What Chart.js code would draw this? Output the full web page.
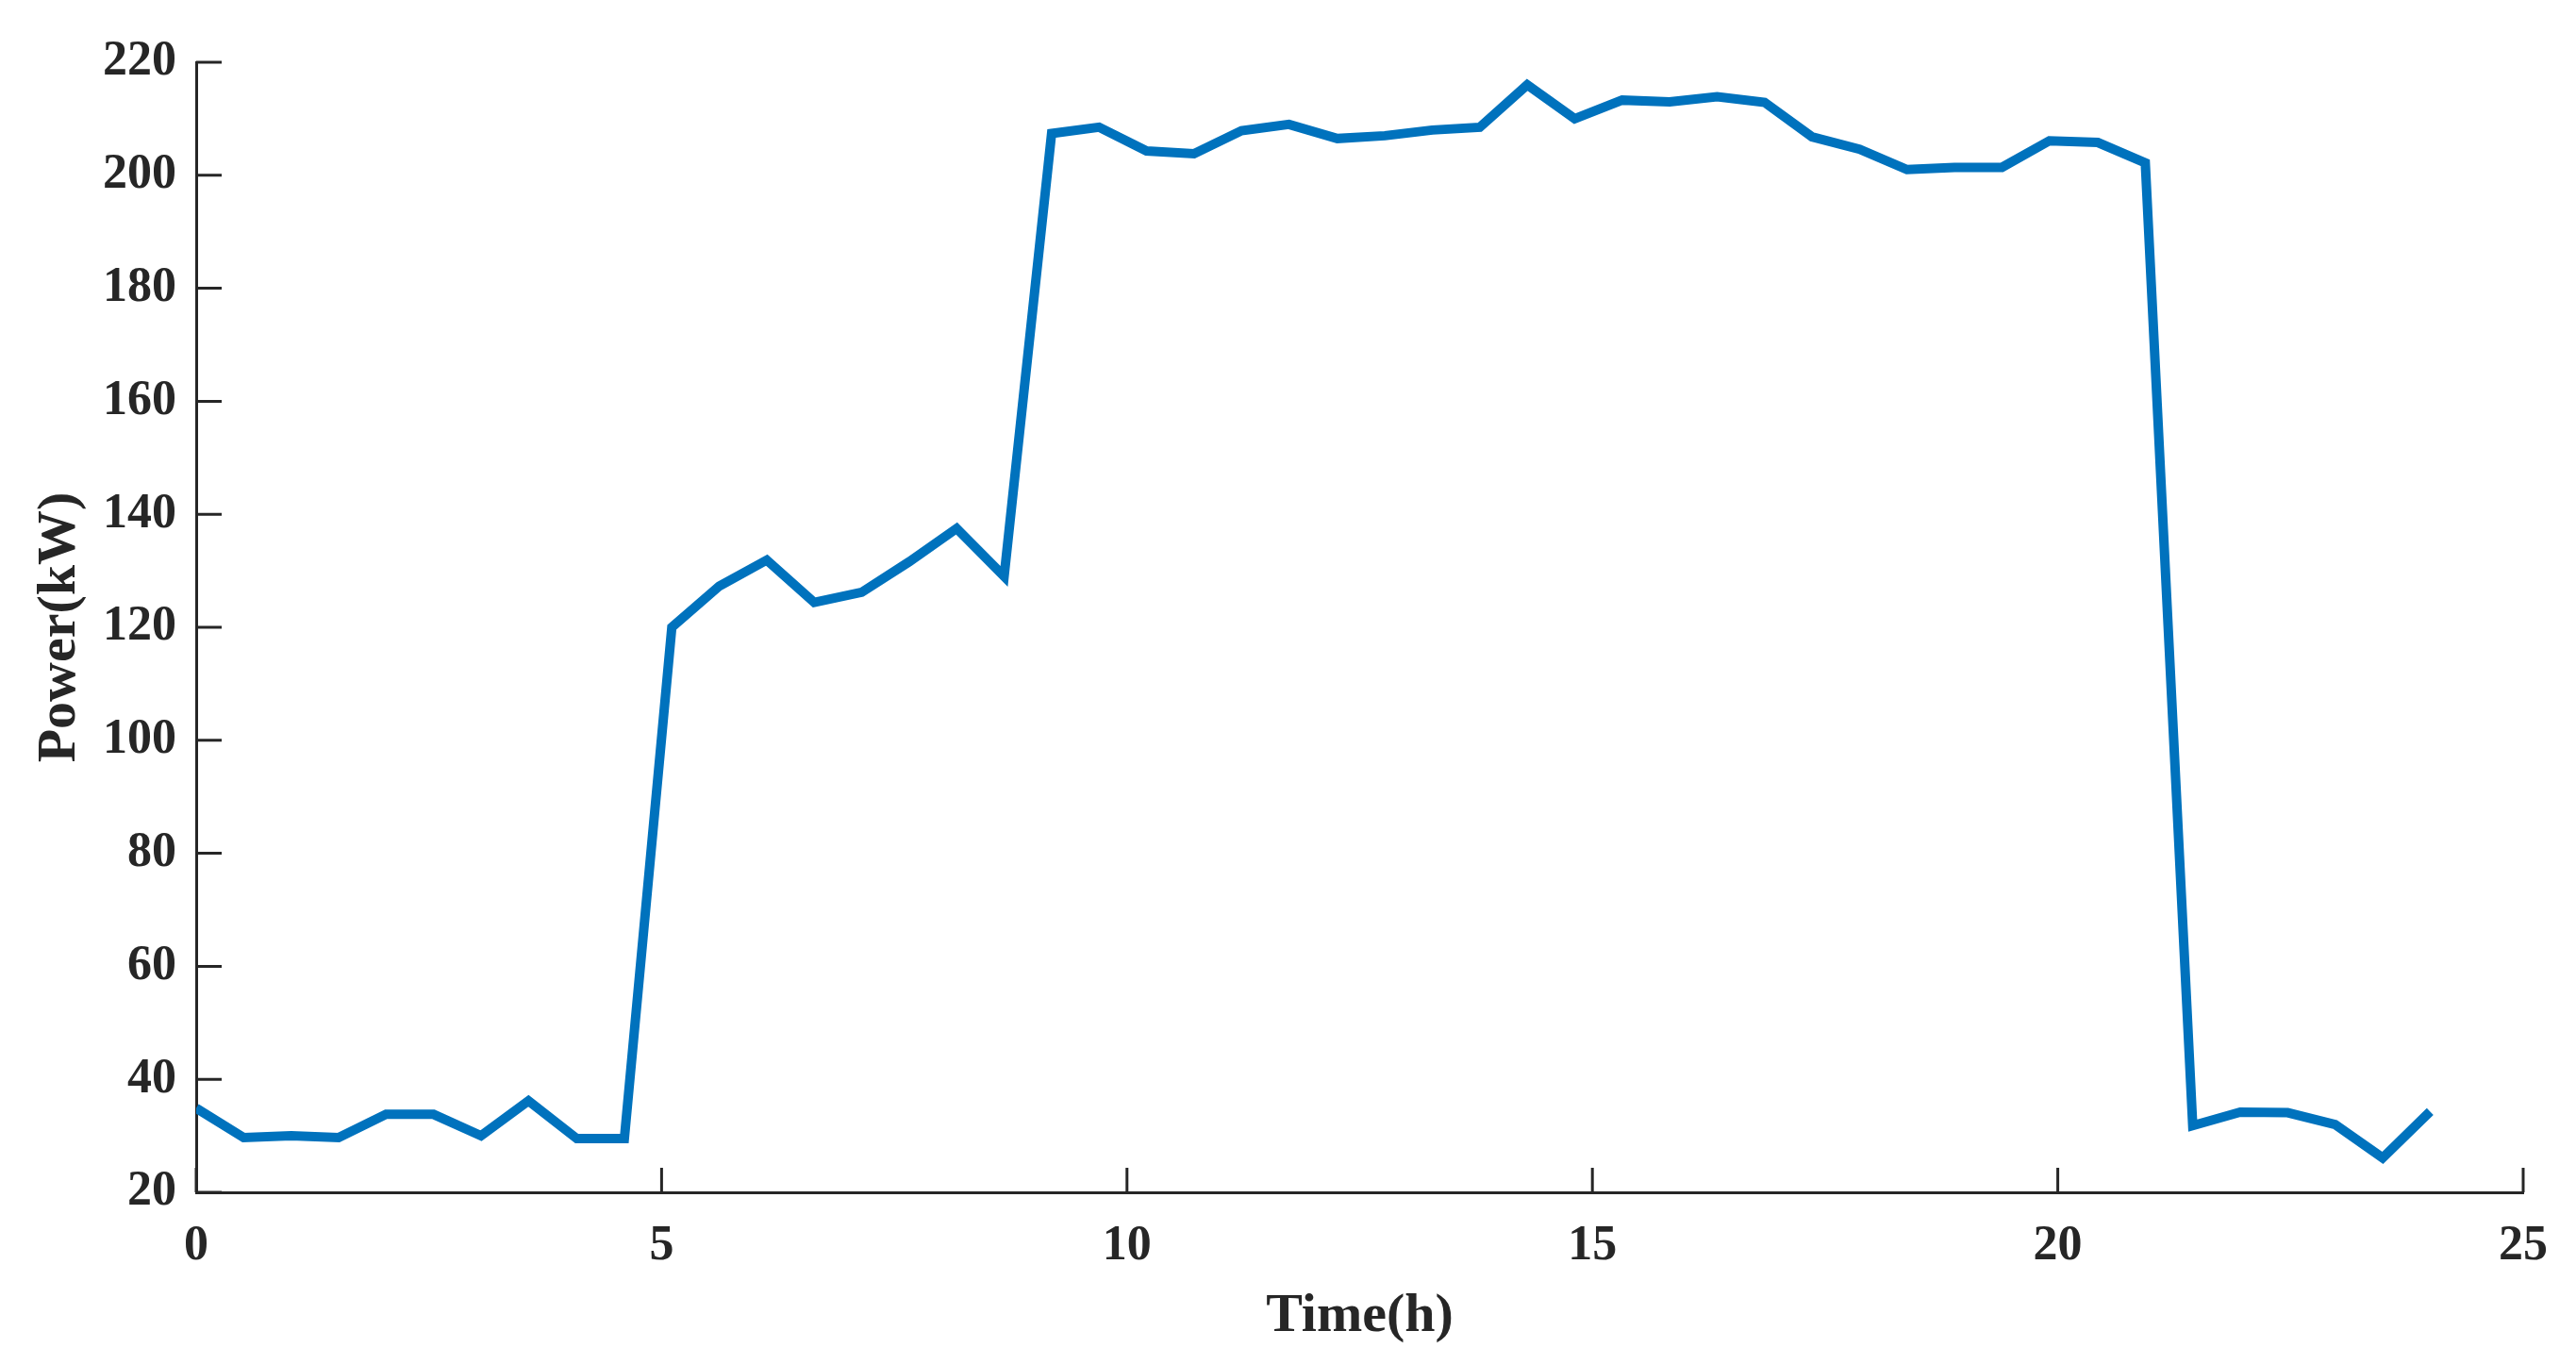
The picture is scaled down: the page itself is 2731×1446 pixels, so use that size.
<!DOCTYPE html>
<html>
<head>
<meta charset="utf-8">
<title>Power vs time</title>
<script src="https://cdn.jsdelivr.net/npm/chart.js@4.4.0/dist/chart.umd.min.js"></script>
<style>
  html, body { margin: 0; padding: 0; background: #ffffff; }
  #wrap { width: 2731px; height: 1446px; }
</style>
</head>
<body>
<div id="wrap"><canvas id="powerChart" width="2731" height="1446"></canvas></div>
<script>
// sample times (h), one every ~0.51 h
var times = [0, 0.51, 1.02, 1.53, 2.04, 2.55, 3.06, 3.57, 4.09, 4.60,
    5.11, 5.62, 6.13, 6.64, 7.15, 7.66, 8.17, 8.68, 9.19, 9.70,
    10.21, 10.72, 11.23, 11.74, 12.26, 12.77, 13.28, 13.79, 14.30, 14.81,
    15.32, 15.83, 16.34, 16.85, 17.36, 17.87, 18.38, 18.89, 19.40, 19.91,
    20.43, 20.94, 21.45, 21.96, 22.47, 22.98, 23.49, 24.00];

// power (kW)
var power = [34.9, 29.7, 30.0, 29.7, 33.8, 33.8, 30.0, 36.2, 29.5, 29.5,
    120.0, 127.3, 131.9, 124.4, 126.2, 131.6, 137.5, 129.0, 207.4, 208.5,
    204.3, 203.8, 207.9, 209.0, 206.5, 207.0, 208.0, 208.5, 216.0, 210.0,
    213.3, 213.0, 213.9, 212.9, 206.8, 204.6, 201.0, 201.4, 201.4, 206.1,
    205.8, 202.2, 31.8, 34.2, 34.1, 32.0, 26.1, 34.3];

var xTicks = [0, 5, 10, 15, 20, 25];
var yTicks = [20, 40, 60, 80, 100, 120, 140, 160, 180, 200, 220];

var AXIS_COLOR = '#262626';
var LINE_COLOR = '#0072BD';
var FONT_FAMILY = "'Liberation Serif', 'Times New Roman', serif";

// MATLAB style: short tick marks pointing into the plot
var innerTicks = {
    id: 'innerTicks',
    beforeDatasetsDraw: function (chart) {
        var ctx = chart.ctx;
        var area = chart.chartArea;
        var xs = chart.scales.x;
        var ys = chart.scales.y;
        ctx.save();
        ctx.strokeStyle = AXIS_COLOR;
        ctx.lineWidth = 3;
        ctx.beginPath();
        xs.ticks.forEach(function (t) {
            var px = xs.getPixelForValue(t.value);
            ctx.moveTo(px, area.bottom);
            ctx.lineTo(px, area.bottom - 26);
        });
        ys.ticks.forEach(function (t) {
            var py = ys.getPixelForValue(t.value);
            ctx.moveTo(area.left, py);
            ctx.lineTo(area.left + 27, py);
        });
        ctx.stroke();
        ctx.restore();
    }
};

var points = times.map(function (t, i) {
    return { x: t, y: power[i] };
});

new Chart(document.getElementById('powerChart'), {
    type: 'line',
    data: {
        datasets: [
            {
                label: 'Power',
                data: points,
                borderColor: LINE_COLOR,
                backgroundColor: LINE_COLOR,
                borderWidth: 10,
                borderJoinStyle: 'miter',
                pointRadius: 0,
                tension: 0,
                fill: false
            }
        ]
    },
    options: {
        responsive: false,
        animation: false,
        devicePixelRatio: 1,
        layout: {
            padding: { left: 0, right: 56, top: 66, bottom: 0 }
        },
        plugins: {
            legend: { display: false },
            tooltip: { enabled: false }
        },
        scales: {
            x: {
                type: 'linear',
                min: 0,
                max: 25,
                afterFit: function (scale) { scale.height = 182; },
                afterBuildTicks: function (scale) {
                    scale.ticks = xTicks.map(function (v) { return { value: v }; });
                },
                grid: { display: false, drawTicks: false },
                border: { display: true, color: AXIS_COLOR, width: 3 },
                ticks: {
                    padding: 26,
                    color: AXIS_COLOR,
                    maxRotation: 0,
                    font: { family: FONT_FAMILY, size: 52, weight: 'bold', lineHeight: 1.2 }
                },
                title: {
                    display: true,
                    text: 'Time(h)',
                    color: AXIS_COLOR,
                    padding: { top: 15, bottom: 15 },
                    font: { family: FONT_FAMILY, size: 58, weight: 'bold', lineHeight: 1.2 }
                }
            },
            y: {
                type: 'linear',
                min: 20,
                max: 220,
                afterFit: function (scale) { scale.width = 208; },
                afterBuildTicks: function (scale) {
                    scale.ticks = yTicks.map(function (v) { return { value: v }; });
                },
                grid: { display: false, drawTicks: false },
                border: { display: true, color: AXIS_COLOR, width: 3 },
                ticks: {
                    padding: 21,
                    color: AXIS_COLOR,
                    font: { family: FONT_FAMILY, size: 52, weight: 'bold', lineHeight: 1.2 }
                },
                title: {
                    display: true,
                    text: 'Power(kW)',
                    color: AXIS_COLOR,
                    padding: { top: 29, bottom: 29 },
                    font: { family: FONT_FAMILY, size: 58, weight: 'bold', lineHeight: 1.2 }
                }
            }
        }
    },
    plugins: [innerTicks]
});
</script>
</body>
</html>
